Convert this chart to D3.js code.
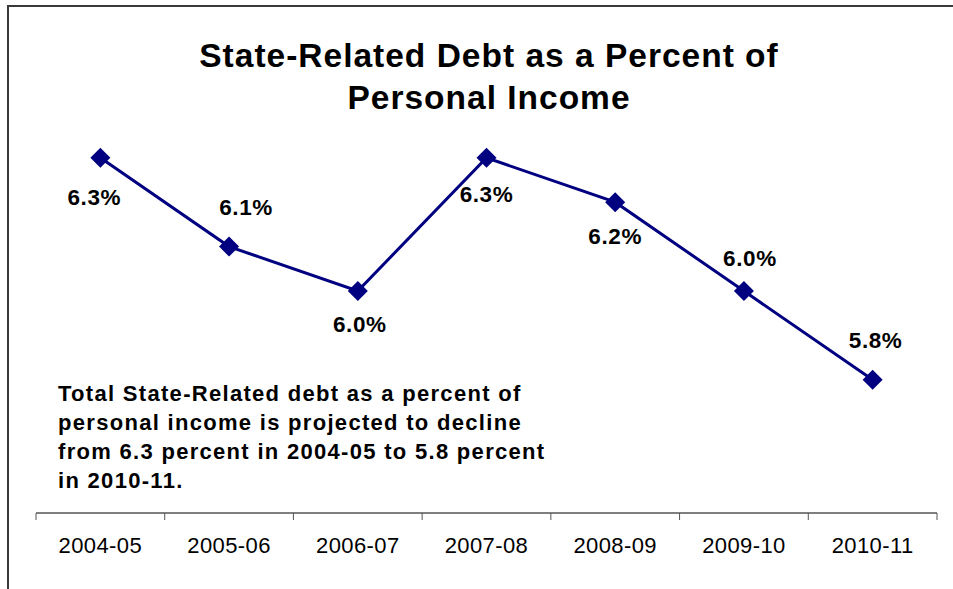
<!DOCTYPE html>
<html>
<head>
<meta charset="utf-8">
<script src="https://cdn.jsdelivr.net/npm/d3@7"></script>
<style>
  html, body { margin: 0; padding: 0; background: #fff; }
  svg { display: block; font-family: Arial, "Liberation Sans", sans-serif; }
</style>
</head>
<body>
<svg id="chart" width="953" height="589"></svg>
<script>
// data
const years = ['2004-05', '2005-06', '2006-07', '2007-08', '2008-09', '2009-10', '2010-11'];
const debtPct = [6.3, 6.1, 6.0, 6.3, 6.2, 6.0, 5.8];
const titleLines = ['State-Related Debt as a Percent of', 'Personal Income'];
const noteLines = [
  'Total State-Related debt as a percent of',
  'personal income is projected to decline',
  'from 6.3 percent in 2004-05 to 5.8 percent',
  'in 2010-11.'
];

// label nudges (dx, dy of baseline from marker) – Excel put them where it liked
const labelNudge = [[-6, 47], [17, -32], [2, 41], [0, 44], [0, 42], [6, -25], [3, -32]];

const svg = d3.select('#chart');
const margin = { left: 36, right: 16, top: 69, axisY: 513 };
const width = 953;

const x = d3.scaleBand().domain(years).range([margin.left, width - margin.right]);
const y = d3.scaleLinear().domain([5.5, 6.5]).range([margin.axisY, margin.top]);

// frame (only top and left edges show)
svg.append('path')
  .attr('d', `M8,589 V6 H953`)
  .attr('fill', 'none')
  .attr('stroke', '#3a3a3a')
  .attr('stroke-width', 2);

// title
svg.append('g').selectAll('text')
  .data(titleLines)
  .join('text')
    .attr('x', 489)
    .attr('y', (d, i) => 67 + i * 42)
    .attr('text-anchor', 'middle')
    .attr('font-size', 33.5)
    .attr('font-weight', 'bold')
    .attr('letter-spacing', 1)
    .attr('fill', '#000')
    .text(d => d);

// x axis: line + ticks at band edges
const axisG = svg.append('g');
axisG.append('line')
  .attr('x1', x.range()[0]).attr('x2', x.range()[1])
  .attr('y1', margin.axisY).attr('y2', margin.axisY)
  .attr('stroke', '#000').attr('stroke-width', 1.2);

const edges = years.map(d => x(d)).concat([x.range()[1]]);
axisG.selectAll('line.tick')
  .data(edges)
  .join('line')
    .attr('class', 'tick')
    .attr('x1', d => d).attr('x2', d => d)
    .attr('y1', margin.axisY).attr('y2', margin.axisY + 7)
    .attr('stroke', '#555').attr('stroke-width', 1);

axisG.selectAll('text')
  .data(years)
  .join('text')
    .attr('x', d => x(d) + x.bandwidth() / 2)
    .attr('y', 553)
    .attr('text-anchor', 'middle')
    .attr('font-size', 22)
    .attr('letter-spacing', 0.4)
    .attr('fill', '#000')
    .text(d => d);

// line
const cx = (d, i) => x(years[i]) + x.bandwidth() / 2;
const line = d3.line().x(cx).y(d => y(d));

svg.append('path')
  .datum(debtPct)
  .attr('d', line)
  .attr('fill', 'none')
  .attr('stroke', '#000080')
  .attr('stroke-width', 3);

// diamond markers
const diamond = d3.symbol().type(d3.symbolSquare).size(200);
svg.append('g').selectAll('path')
  .data(debtPct)
  .join('path')
    .attr('d', diamond)
    .attr('transform', (d, i) => `translate(${cx(d, i)},${y(d)}) rotate(45)`)
    .attr('fill', '#000080');

// data labels
svg.append('g').selectAll('text')
  .data(debtPct)
  .join('text')
    .attr('x', (d, i) => cx(d, i) + labelNudge[i][0])
    .attr('y', (d, i) => y(d) + labelNudge[i][1])
    .attr('text-anchor', 'middle')
    .attr('font-size', 22.5)
    .attr('font-weight', 'bold')
    .attr('letter-spacing', 0.6)
    .attr('fill', '#000')
    .text(d => d.toFixed(1) + '%');

// note
svg.append('g').selectAll('text')
  .data(noteLines)
  .join('text')
    .attr('x', 58)
    .attr('y', (d, i) => 401 + i * 29)
    .attr('font-size', 22)
    .attr('font-weight', 'bold')
    .attr('letter-spacing', 1.3)
    .attr('fill', '#000')
    .text(d => d);
</script>
</body>
</html>
